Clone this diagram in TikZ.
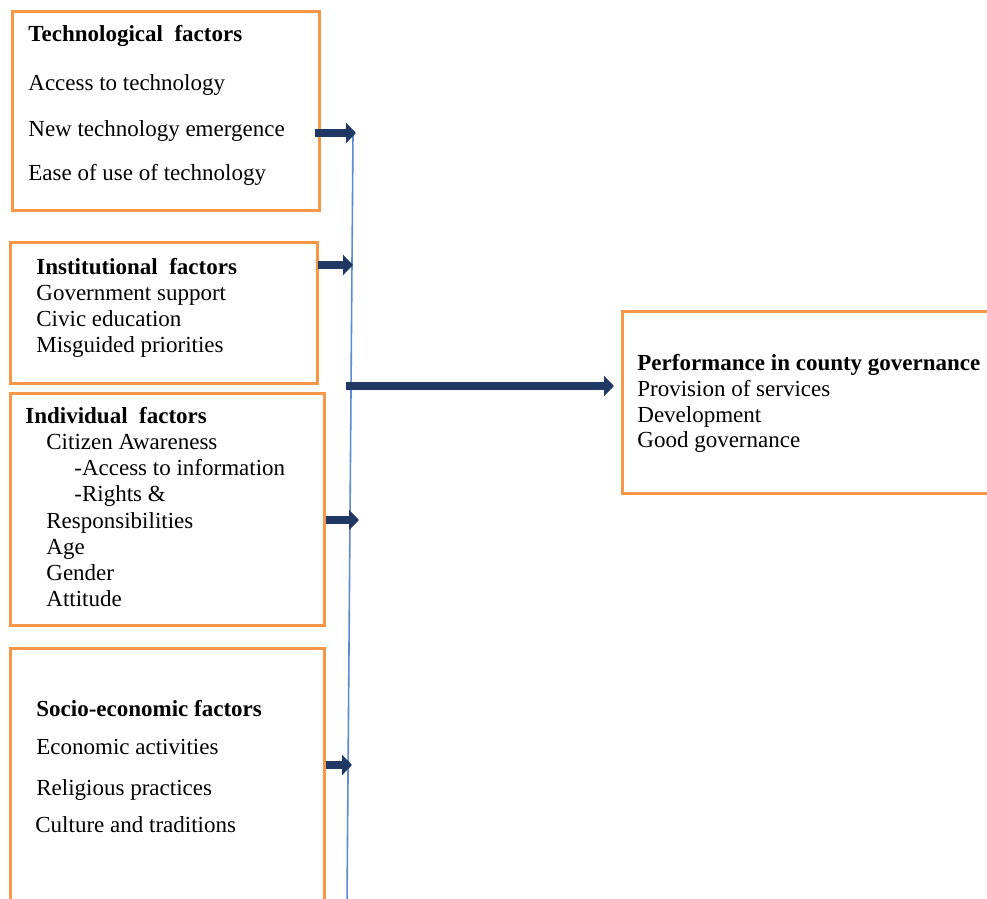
\documentclass[tikz,border=0pt]{standalone}
\usepackage{fontspec}
\setmainfont{Liberation Serif}
\usetikzlibrary{fit,arrows.meta}
\definecolor{boxorange}{HTML}{F79646}
\definecolor{arrnavy}{HTML}{203864}
\definecolor{lineblue}{HTML}{5B8BD0}
\tikzset{
  box/.style={draw=boxorange, line width=1.5pt, inner sep=0pt},
  txt/.style={anchor=mid west, inner sep=0pt, font=\fontsize{11.5pt}{13pt}\selectfont},
  ttl/.style={txt, font=\fontsize{11.5pt}{13pt}\selectfont\bfseries},
  arr/.style={draw=arrnavy, line width=4pt, -{Triangle[length=5pt,width=10pt]}},
  vline/.style={draw=lineblue, line width=0.8pt}
}
\begin{document}
\begin{tikzpicture}[x=0.5pt,y=-0.5pt]
\useasboundingbox (0,0) rectangle (987,899);
\clip (0,0) rectangle (987,899);
% boxes
\node[box, fit={(12,12) (319,211)}] (tech) {};
\node[box, fit={(10,243) (317,383)}] (inst) {};
\node[box, fit={(10,393) (324,625)}] (indiv) {};
\node[box, fit={(10,648) (324,920)}] (socio) {};
\node[box, fit={(622,312) (1000,493)}] (perf) {};
% texts
\begin{scope}[yshift=-2pt]
\node[ttl] (t0) at (28,33) {Technological\hspace{0.5em}factors};
\node[txt] (t1) at (28,82) {Access to technology};
\node[txt] (t2) at (28,128) {New technology emergence};
\node[txt] (t3) at (28,172) {Ease of use of technology};
\node[ttl] (i0) at (36,266) {Institutional\hspace{0.5em}factors};
\node[txt] (i1) at (36,292) {Government support};
\node[txt] (i2) at (36,318) {Civic education};
\node[txt] (i3) at (36,344) {Misguided priorities};
\node[ttl] (d0) at (25,415) {Individual\hspace{0.5em}factors};
\node[txt] (d1) at (46,441) {Citizen Awareness};
\node[txt] (d2) at (74,467) {-Access to information};
\node[txt] (d3) at (74,493) {-Rights \&};
\node[txt] (d4) at (46,520) {Responsibilities};
\node[txt] (d5) at (46,546) {Age};
\node[txt] (d6) at (46,572) {Gender};
\node[txt] (d7) at (46,598) {Attitude};
\node[ttl] (s0) at (36,708) {Socio-economic factors};
\node[txt] (s1) at (36,746) {Economic activities};
\node[txt] (s2) at (36,787) {Religious practices};
\node[txt] (s3) at (35,824) {Culture and traditions};
\node[ttl] (p0) at (637,362) {Performance in county governance};
\node[txt] (p1) at (637,388) {Provision of services};
\node[txt] (p2) at (637,414) {Development};
\node[txt] (p3) at (637,439) {Good governance};
\end{scope}
% vertical line
\coordinate (vtop) at (353,135);
\coordinate (vbot) at (347,905);
\draw[vline] (vtop) -- (vbot);
% arrow endpoints
\coordinate (a1s) at (315,133); \coordinate (a1e) at (356,133);
\coordinate (a2s) at (318,265); \coordinate (a2e) at (353,265);
\coordinate (a3s) at (346,386); \coordinate (a3e) at (614,386);
\coordinate (a4s) at (326,520); \coordinate (a4e) at (359,520);
\coordinate (a5s) at (326,765); \coordinate (a5e) at (352,765);
\draw[arr] (a1s) -- (a1e);
\draw[arr] (a2s) -- (a2e);
\draw[arr] (a3s) -- (a3e);
\draw[arr] (a4s) -- (a4e);
\draw[arr] (a5s) -- (a5e);
\end{tikzpicture}
\end{document}
